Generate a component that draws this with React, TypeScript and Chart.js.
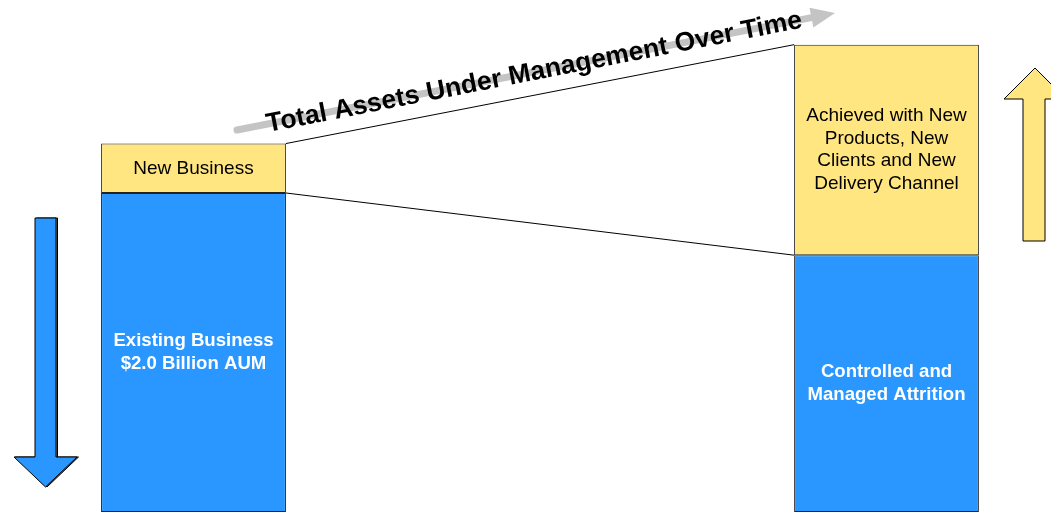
import React, { useEffect, useRef } from "react";
import { Chart, registerables } from "chart.js";

Chart.register(...registerables);

// ---- data ----
const categories = ["Today", "", " ", "Future"];
const existingBusiness: (number | null)[] = [2.0, null, null, 1.61];
const newBusiness: (number | null)[] = [0.31, null, null, 1.32];
const existingLabels = [["Existing Business", "$2.0 Billion AUM"], ["Controlled and", "Managed Attrition"]];
const newLabels = [["New Business"], ["Achieved with New", "Products, New", "Clients and New", "Delivery Channel"]];
const titleText = "Total Assets Under Management Over Time";
const yMax = 3.21;

const BLUE = "#2997FF";
const YELLOW = "#FFE680";
const FONT = "'Liberation Sans', Arial, sans-serif";

const decorPlugin = {
  id: "decor",
  afterDatasetsDraw(chart: any) {
    const ctx: CanvasRenderingContext2D = chart.ctx;
    const blue = chart.getDatasetMeta(0).data;
    const yel = chart.getDatasetMeta(1).data;
    const idx = [0, 3];
    const lb = blue[0], rb = blue[3], ly = yel[0], ry = yel[3];

    ctx.save();
    // connecting lines
    ctx.strokeStyle = "#000";
    ctx.lineWidth = 1;
    ctx.beginPath();
    ctx.moveTo(ly.x + ly.width / 2, ly.y);
    ctx.lineTo(ry.x - ry.width / 2, ry.y);
    ctx.moveTo(lb.x + lb.width / 2, lb.y);
    ctx.lineTo(rb.x - rb.width / 2, rb.y);
    ctx.stroke();

    // bar labels
    ctx.textAlign = "center";
    ctx.textBaseline = "middle";
    const lh = 22.5;
    idx.forEach((i, k) => {
      const b = blue[i];
      const y = yel[i];
      const bLines = existingLabels[k];
      const bCenter = (b.y + Math.min(b.base, chart.chartArea.bottom)) / 2;
      ctx.fillStyle = "#fff";
      ctx.font = `bold 18.6px ${FONT}`;
      bLines.forEach((t, j) => {
        ctx.fillText(t, b.x, bCenter + (j - (bLines.length - 1) / 2) * lh);
      });
      const yLines = newLabels[k];
      const yCenter = (y.y + y.base) / 2;
      ctx.fillStyle = "#000";
      ctx.font = `19px ${FONT}`;
      yLines.forEach((t, j) => {
        ctx.fillText(t, y.x, yCenter + (j - (yLines.length - 1) / 2) * lh);
      });
    });

    // gray title arrow
    const ax0 = 237, ay0 = 130, ax1 = 835, ay1 = 13;
    const ang = Math.atan2(ay1 - ay0, ax1 - ax0);
    const len = Math.hypot(ax1 - ax0, ay1 - ay0);
    ctx.save();
    ctx.translate(ax0, ay0);
    ctx.rotate(ang);
    ctx.strokeStyle = "#C4C4C4";
    ctx.fillStyle = "#C4C4C4";
    ctx.lineWidth = 7;
    ctx.lineCap = "round";
    ctx.beginPath();
    ctx.moveTo(0, 0);
    ctx.lineTo(len - 20, 0);
    ctx.stroke();
    ctx.beginPath();
    ctx.moveTo(len, 0);
    ctx.lineTo(len - 24, -10);
    ctx.lineTo(len - 24, 10);
    ctx.closePath();
    ctx.fill();
    // title text
    ctx.fillStyle = "#000";
    ctx.font = `bold 26.5px ${FONT}`;
    ctx.textAlign = "center";
    ctx.textBaseline = "alphabetic";
    ctx.fillText(titleText, len / 2 - 2, 8);
    ctx.restore();

    // blue down arrow
    const down = [[35, 218], [56, 218], [56, 457], [77, 457], [45.5, 487], [14, 457], [35, 457]];
    const drawPoly = (pts: number[][], fill: string) => {
      ctx.beginPath();
      pts.forEach((p, j) => (j ? ctx.lineTo(p[0], p[1]) : ctx.moveTo(p[0], p[1])));
      ctx.closePath();
      ctx.fillStyle = fill;
      ctx.fill();
      ctx.strokeStyle = "#000";
      ctx.lineWidth = 1;
      ctx.stroke();
    };
    ctx.save();
    ctx.translate(1.5, 0);
    drawPoly(down, "#777");
    ctx.restore();
    drawPoly(down, BLUE);
    const up = [[1035, 68], [1066, 99], [1045, 99], [1045, 241], [1023, 241], [1023, 99], [1004, 99]];
    drawPoly(up, YELLOW);
    ctx.restore();
  },
};

export default function App() {
  const ref = useRef<HTMLCanvasElement>(null);
  useEffect(() => {
    document.body.style.margin = "0";
    const chart = new Chart(ref.current!, {
      type: "bar",
      data: {
        labels: categories,
        datasets: [
          {
            label: "Existing Business",
            data: existingBusiness,
            backgroundColor: BLUE,
            borderColor: "#222",
            borderWidth: 1,
            borderSkipped: false,
          },
          {
            label: "New Business",
            data: newBusiness,
            backgroundColor: YELLOW,
            borderColor: "#222",
            borderWidth: 1,
            borderSkipped: false,
          },
        ],
      },
      options: {
        responsive: false,
        animation: false,
        layout: { padding: { left: 78, right: 49, top: 0, bottom: 0 } },
        datasets: { bar: { barPercentage: 1, categoryPercentage: 0.8 } },
        plugins: { legend: { display: false }, tooltip: { enabled: false }, title: { display: false } },
        scales: {
          x: { display: false, stacked: true },
          y: { display: false, stacked: true, min: 0, max: yMax },
        },
      },
      plugins: [decorPlugin],
    });
    return () => chart.destroy();
  }, []);
  return (
    <div style={{ width: 1051, height: 512, background: "#fff" }}>
      <canvas ref={ref} width={1051} height={512} style={{ display: "block" }} />
    </div>
  );
}
